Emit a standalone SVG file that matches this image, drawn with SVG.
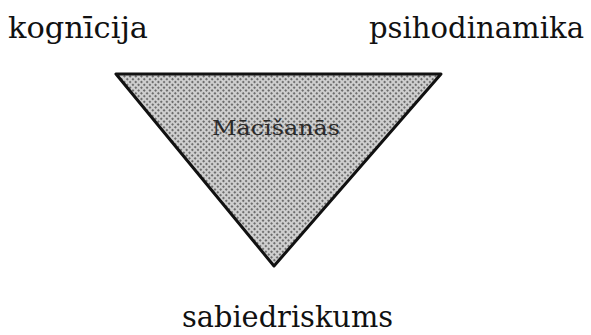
<svg xmlns="http://www.w3.org/2000/svg" width="591" height="335" viewBox="0 0 591 335">
<defs>
<pattern id="dots" width="4" height="4" patternUnits="userSpaceOnUse" patternTransform="rotate(45)">
<rect width="4" height="4" fill="#cfcfcf"/>
<circle cx="2" cy="2" r="1.1" fill="#555"/>
</pattern>
</defs>
<style>
.lbl{font-family:"DejaVu Serif","Liberation Serif",serif;font-size:29px;fill:#111}
.in{font-family:"DejaVu Serif","Liberation Serif",serif;font-size:21px;fill:#2a2a2a}
</style>
<rect width="591" height="335" fill="#fff"/>
<g id="triangle">
<polygon points="116,74 441,74 274,266" fill="url(#dots)" stroke="#111" stroke-width="3" stroke-linejoin="round"/>
<text class="in" x="212" y="135" textLength="128" lengthAdjust="spacingAndGlyphs">Mācīšanās</text>
</g>
<g id="kognicija"><text class="lbl" x="8" y="38" textLength="140" lengthAdjust="spacingAndGlyphs">kognīcija</text></g>
<g id="psihodinamika"><text class="lbl" x="369" y="38" textLength="215" lengthAdjust="spacingAndGlyphs">psihodinamika</text></g>
<g id="sabiedriskums"><text class="lbl" x="182" y="327" textLength="211" lengthAdjust="spacingAndGlyphs">sabiedriskums</text></g>
<g id="connectors"/>
</svg>
